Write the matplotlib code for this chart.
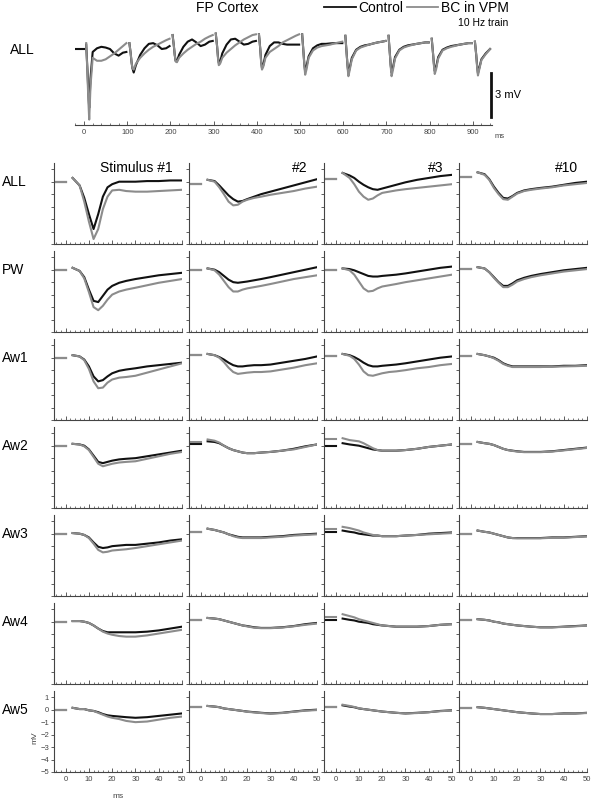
import matplotlib
matplotlib.use('Agg')
import matplotlib.pyplot as plt
from matplotlib.lines import Line2D
import numpy as np

# ///---- Data: 10 Hz train (top panel) ----///
tren_pre_t = [-18, 0]
tren_pre_v = [0.0, 0.0]
tren_t = [5, 8, 10, 12, 15, 20, 30, 40, 50, 60, 70, 80, 90, 98]
tren_ctrl = [
    [0.3, -1.5, -3.0, -4.0, -2.0, -0.2, 0.05, 0.15, 0.1, 0.0, -0.3, -0.45, -0.25, -0.2],
    [0.4, -0.3, -0.9, -1.3, -1.6, -1.1, -0.4, 0.05, 0.35, 0.4, 0.25, 0.0, 0.05, 0.2],
    [0.95, 0.2, -0.4, -0.8, -0.85, -0.4, 0.15, 0.5, 0.65, 0.45, 0.2, 0.3, 0.5, 0.55],
    [1.05, 0.2, -0.5, -0.95, -0.9, -0.3, 0.3, 0.65, 0.7, 0.5, 0.3, 0.35, 0.5, 0.55],
    [1.0, 0.0, -0.8, -1.3, -1.1, -0.4, 0.2, 0.45, 0.45, 0.35, 0.3, 0.3, 0.3, 0.3],
    [1.0, -0.2, -1.0, -1.55, -1.2, -0.5, 0.05, 0.25, 0.35, 0.35, 0.38, 0.4, 0.4, 0.4],
    [0.9, -0.3, -1.1, -1.65, -1.3, -0.6, -0.05, 0.15, 0.25, 0.3, 0.38, 0.45, 0.5, 0.55],
    [0.9, -0.3, -1.1, -1.6, -1.3, -0.55, -0.05, 0.15, 0.25, 0.3, 0.35, 0.4, 0.45, 0.45],
    [0.7, -0.3, -1.0, -1.5, -1.25, -0.55, -0.05, 0.1, 0.2, 0.25, 0.3, 0.35, 0.4, 0.4],
    [0.5, -0.4, -1.1, -1.65, -1.3, -0.7, -0.3, 0.0],
]
tren_bc = [
    [0.4, -1.8, -3.5, -4.8, -2.5, -0.6, -0.8, -0.8, -0.7, -0.5, -0.3, -0.05, 0.2, 0.4],
    [0.4, -0.3, -0.9, -1.3, -1.4, -1.0, -0.6, -0.3, -0.05, 0.15, 0.3, 0.45, 0.6, 0.7],
    [0.95, 0.2, -0.4, -0.85, -0.9, -0.6, -0.3, -0.05, 0.15, 0.35, 0.5, 0.7, 0.85, 0.95],
    [1.05, 0.2, -0.6, -1.1, -1.0, -0.6, -0.25, 0.0, 0.25, 0.45, 0.65, 0.8, 0.95, 1.0],
    [1.0, 0.0, -0.9, -1.4, -1.2, -0.6, -0.2, 0.0, 0.2, 0.45, 0.6, 0.75, 0.9, 1.0],
    [1.0, -0.2, -1.1, -1.75, -1.4, -0.6, -0.1, 0.1, 0.2, 0.25, 0.3, 0.38, 0.45, 0.5],
    [0.9, -0.3, -1.2, -1.85, -1.45, -0.7, -0.1, 0.1, 0.2, 0.3, 0.38, 0.45, 0.5, 0.55],
    [0.9, -0.3, -1.2, -1.85, -1.45, -0.65, -0.1, 0.1, 0.2, 0.28, 0.35, 0.4, 0.45, 0.45],
    [0.7, -0.3, -1.1, -1.7, -1.4, -0.65, -0.1, 0.05, 0.15, 0.22, 0.3, 0.35, 0.4, 0.4],
    [0.5, -0.4, -1.2, -1.8, -1.4, -0.75, -0.35, 0.0],
]
tren_ticks = [0, 100, 200, 300, 400, 500, 600, 700, 800, 900]

# ///---- Data: grid of responses ----///
filas = ['ALL', 'PW', 'Aw1', 'Aw2', 'Aw3', 'Aw4', 'Aw5']
titulos = ['Stimulus #1', '#2', '#3', '#10']
t_pre = [-5, 0]
t_post = [3, 6, 8, 10, 12, 14, 16, 18, 20, 23, 26, 30, 35, 40, 45, 50]

all_base_ctrl = [0.0, -0.2, 0.2, 0.4]
all_base_bc = [0.0, -0.2, 0.2, 0.4]
all_ctrl = [
    [0.3, -0.3, -1.3, -2.6, -3.8, -2.6, -1.2, -0.45, -0.2, 0.0, 0.0, 0.0, 0.05, 0.05, 0.1, 0.1],
    [0.15, 0.05, -0.3, -0.7, -1.1, -1.4, -1.6, -1.55, -1.4, -1.2, -1.0, -0.8, -0.55, -0.3, -0.05, 0.2],
    [0.7, 0.5, 0.3, 0.0, -0.25, -0.45, -0.6, -0.65, -0.55, -0.4, -0.25, -0.05, 0.15, 0.3, 0.45, 0.55],
    [0.75, 0.6, 0.2, -0.4, -0.9, -1.3, -1.35, -1.15, -0.9, -0.7, -0.6, -0.5, -0.4, -0.25, -0.1, 0.0],
]
all_bc = [
    [0.3, -0.3, -1.6, -3.2, -4.6, -3.8, -2.2, -1.2, -0.7, -0.65, -0.75, -0.8, -0.8, -0.75, -0.7, -0.65],
    [0.15, 0.0, -0.45, -1.0, -1.6, -1.9, -1.85, -1.6, -1.45, -1.3, -1.2, -1.05, -0.9, -0.75, -0.55, -0.4],
    [0.7, 0.3, -0.2, -0.8, -1.2, -1.45, -1.35, -1.1, -0.9, -0.8, -0.7, -0.6, -0.5, -0.4, -0.3, -0.2],
    [0.75, 0.55, 0.15, -0.5, -1.0, -1.4, -1.45, -1.2, -0.95, -0.75, -0.65, -0.55, -0.45, -0.3, -0.2, -0.1],
]

pw_base_ctrl = [0.0, 0.0, 0.0, 0.05]
pw_base_bc = [0.0, 0.0, 0.0, 0.05]
pw_ctrl = [
    [0.15, -0.1, -0.6, -1.6, -2.5, -2.6, -2.1, -1.6, -1.3, -1.05, -0.9, -0.75, -0.6, -0.45, -0.35, -0.25],
    [0.1, 0.0, -0.2, -0.5, -0.8, -1.0, -1.05, -1.0, -0.95, -0.85, -0.75, -0.6, -0.4, -0.2, 0.0, 0.2],
    [0.1, 0.05, -0.05, -0.2, -0.35, -0.5, -0.55, -0.55, -0.5, -0.45, -0.4, -0.3, -0.15, 0.0, 0.15, 0.25],
    [0.2, 0.1, -0.2, -0.6, -1.0, -1.3, -1.3, -1.1, -0.85, -0.65, -0.5, -0.35, -0.2, -0.05, 0.05, 0.15],
]
pw_bc = [
    [0.15, -0.1, -0.7, -1.8, -3.0, -3.25, -2.9, -2.4, -2.0, -1.75, -1.6, -1.45, -1.25, -1.05, -0.9, -0.75],
    [0.1, -0.05, -0.4, -0.9, -1.4, -1.75, -1.75, -1.6, -1.5, -1.4, -1.3, -1.15, -0.95, -0.75, -0.6, -0.45],
    [0.1, -0.05, -0.4, -0.95, -1.5, -1.75, -1.7, -1.5, -1.35, -1.25, -1.15, -1.0, -0.85, -0.7, -0.55, -0.4],
    [0.2, 0.1, -0.2, -0.65, -1.05, -1.4, -1.4, -1.2, -0.95, -0.75, -0.6, -0.45, -0.3, -0.15, -0.05, 0.05],
]

aw1_base_ctrl = [0.0, 0.2, 0.15, 0.15]
aw1_base_bc = [0.0, 0.2, 0.15, 0.15]
aw1_ctrl = [
    [0.2, 0.1, -0.15, -0.7, -1.5, -1.9, -1.8, -1.5, -1.25, -1.05, -0.95, -0.85, -0.7, -0.6, -0.5, -0.4],
    [0.3, 0.2, 0.05, -0.15, -0.4, -0.6, -0.7, -0.7, -0.65, -0.6, -0.6, -0.55, -0.4, -0.25, -0.1, 0.1],
    [0.3, 0.2, 0.05, -0.15, -0.4, -0.6, -0.7, -0.7, -0.65, -0.6, -0.55, -0.45, -0.3, -0.15, 0.0, 0.1],
    [0.3, 0.2, 0.1, 0.0, -0.2, -0.45, -0.6, -0.7, -0.7, -0.7, -0.7, -0.7, -0.7, -0.65, -0.65, -0.6],
]
aw1_bc = [
    [0.2, 0.1, -0.2, -0.9, -1.9, -2.45, -2.4, -2.0, -1.75, -1.6, -1.55, -1.45, -1.2, -0.95, -0.7, -0.45],
    [0.3, 0.2, 0.0, -0.35, -0.8, -1.15, -1.3, -1.25, -1.2, -1.15, -1.15, -1.1, -0.95, -0.8, -0.6, -0.45],
    [0.3, 0.15, -0.1, -0.55, -1.1, -1.4, -1.45, -1.35, -1.25, -1.15, -1.1, -1.0, -0.85, -0.75, -0.6, -0.5],
    [0.3, 0.2, 0.1, -0.05, -0.25, -0.5, -0.65, -0.75, -0.75, -0.75, -0.75, -0.75, -0.72, -0.7, -0.68, -0.65],
]

aw2_base_ctrl = [0.0, 0.1, 0.0, 0.1]
aw2_base_bc = [0.0, 0.3, 0.5, 0.1]
aw2_ctrl = [
    [0.15, 0.1, 0.0, -0.3, -0.8, -1.3, -1.4, -1.3, -1.2, -1.1, -1.05, -1.0, -0.85, -0.7, -0.55, -0.4],
    [0.35, 0.3, 0.2, 0.0, -0.2, -0.35, -0.45, -0.55, -0.6, -0.6, -0.55, -0.5, -0.4, -0.25, -0.05, 0.1],
    [0.2, 0.1, 0.05, 0.0, -0.1, -0.2, -0.3, -0.35, -0.4, -0.4, -0.4, -0.35, -0.25, -0.1, 0.0, 0.1],
    [0.3, 0.2, 0.15, 0.05, -0.1, -0.25, -0.35, -0.4, -0.45, -0.5, -0.5, -0.5, -0.45, -0.35, -0.25, -0.15],
]
aw2_bc = [
    [0.15, 0.1, -0.05, -0.35, -0.9, -1.45, -1.65, -1.55, -1.45, -1.35, -1.3, -1.25, -1.05, -0.85, -0.65, -0.5],
    [0.5, 0.4, 0.25, 0.0, -0.2, -0.35, -0.45, -0.55, -0.6, -0.6, -0.55, -0.5, -0.4, -0.3, -0.1, 0.1],
    [0.6, 0.45, 0.4, 0.35, 0.2, 0.0, -0.2, -0.35, -0.4, -0.4, -0.4, -0.35, -0.25, -0.1, 0.0, 0.1],
    [0.3, 0.2, 0.15, 0.05, -0.1, -0.25, -0.35, -0.42, -0.47, -0.52, -0.52, -0.52, -0.47, -0.38, -0.28, -0.18],
]

aw3_base_ctrl = [0.0, 0.1, 0.1, 0.0]
aw3_base_bc = [0.0, 0.1, 0.4, 0.0]
aw3_ctrl = [
    [0.05, 0.0, -0.1, -0.3, -0.7, -1.05, -1.15, -1.1, -1.0, -0.95, -0.9, -0.9, -0.8, -0.7, -0.55, -0.45],
    [0.4, 0.3, 0.2, 0.1, -0.05, -0.15, -0.25, -0.3, -0.3, -0.3, -0.3, -0.25, -0.2, -0.1, -0.05, 0.0],
    [0.25, 0.15, 0.1, 0.0, -0.05, -0.1, -0.15, -0.15, -0.2, -0.2, -0.2, -0.15, -0.1, 0.0, 0.05, 0.1],
    [0.25, 0.15, 0.1, 0.0, -0.1, -0.2, -0.3, -0.35, -0.35, -0.35, -0.35, -0.35, -0.3, -0.3, -0.25, -0.2],
]
aw3_bc = [
    [0.05, 0.0, -0.1, -0.35, -0.8, -1.3, -1.5, -1.45, -1.35, -1.3, -1.25, -1.15, -1.0, -0.85, -0.7, -0.55],
    [0.4, 0.3, 0.2, 0.1, -0.05, -0.2, -0.3, -0.35, -0.35, -0.35, -0.35, -0.3, -0.25, -0.15, -0.1, -0.05],
    [0.55, 0.45, 0.35, 0.25, 0.1, 0.0, -0.1, -0.15, -0.2, -0.2, -0.2, -0.15, -0.1, -0.05, 0.0, 0.05],
    [0.25, 0.15, 0.1, 0.0, -0.1, -0.2, -0.3, -0.35, -0.37, -0.37, -0.37, -0.37, -0.33, -0.32, -0.27, -0.22],
]

aw4_base_ctrl = [0.0, 0.15, 0.1, 0.1]
aw4_base_bc = [0.0, 0.15, 0.4, 0.1]
aw4_ctrl = [
    [0.05, 0.05, 0.0, -0.1, -0.3, -0.55, -0.75, -0.85, -0.85, -0.85, -0.85, -0.85, -0.8, -0.7, -0.55, -0.4],
    [0.3, 0.25, 0.2, 0.1, 0.0, -0.1, -0.2, -0.3, -0.35, -0.45, -0.5, -0.5, -0.45, -0.35, -0.2, -0.1],
    [0.25, 0.15, 0.1, 0.0, -0.05, -0.1, -0.2, -0.25, -0.3, -0.35, -0.4, -0.4, -0.4, -0.35, -0.25, -0.2],
    [0.2, 0.15, 0.1, 0.0, -0.05, -0.15, -0.2, -0.25, -0.3, -0.35, -0.4, -0.45, -0.45, -0.4, -0.35, -0.3],
]
aw4_bc = [
    [0.05, 0.05, 0.0, -0.1, -0.3, -0.55, -0.8, -0.95, -1.05, -1.15, -1.2, -1.2, -1.1, -0.95, -0.8, -0.65],
    [0.3, 0.25, 0.2, 0.1, 0.0, -0.1, -0.2, -0.3, -0.38, -0.48, -0.52, -0.52, -0.47, -0.37, -0.25, -0.15],
    [0.6, 0.45, 0.35, 0.2, 0.1, 0.0, -0.1, -0.2, -0.3, -0.35, -0.4, -0.4, -0.4, -0.35, -0.25, -0.2],
    [0.2, 0.15, 0.1, 0.0, -0.05, -0.15, -0.2, -0.25, -0.3, -0.35, -0.4, -0.45, -0.45, -0.42, -0.37, -0.32],
]

aw5_base_ctrl = [0.0, 0.2, 0.2, 0.1]
aw5_base_bc = [0.0, 0.2, 0.25, 0.1]
aw5_ctrl = [
    [0.15, 0.05, 0.05, -0.05, -0.1, -0.2, -0.35, -0.45, -0.5, -0.55, -0.6, -0.65, -0.6, -0.5, -0.4, -0.3],
    [0.3, 0.25, 0.2, 0.1, 0.05, 0.0, -0.05, -0.1, -0.15, -0.2, -0.25, -0.3, -0.25, -0.15, -0.05, 0.0],
    [0.35, 0.25, 0.2, 0.1, 0.05, 0.0, -0.05, -0.1, -0.15, -0.2, -0.25, -0.3, -0.25, -0.2, -0.1, -0.05],
    [0.2, 0.15, 0.1, 0.05, 0.0, -0.05, -0.1, -0.15, -0.2, -0.25, -0.3, -0.35, -0.35, -0.3, -0.3, -0.25],
]
aw5_bc = [
    [0.15, 0.05, 0.05, -0.05, -0.1, -0.25, -0.4, -0.55, -0.65, -0.75, -0.9, -1.0, -0.95, -0.8, -0.65, -0.55],
    [0.3, 0.25, 0.2, 0.1, 0.05, 0.0, -0.05, -0.1, -0.17, -0.22, -0.27, -0.32, -0.27, -0.17, -0.08, -0.03],
    [0.4, 0.3, 0.22, 0.12, 0.05, 0.0, -0.05, -0.1, -0.15, -0.2, -0.25, -0.3, -0.27, -0.2, -0.12, -0.07],
    [0.2, 0.15, 0.1, 0.05, 0.0, -0.05, -0.1, -0.15, -0.2, -0.25, -0.3, -0.35, -0.35, -0.32, -0.3, -0.27],
]

datos = {
    'ALL': (all_base_ctrl, all_base_bc, all_ctrl, all_bc),
    'PW': (pw_base_ctrl, pw_base_bc, pw_ctrl, pw_bc),
    'Aw1': (aw1_base_ctrl, aw1_base_bc, aw1_ctrl, aw1_bc),
    'Aw2': (aw2_base_ctrl, aw2_base_bc, aw2_ctrl, aw2_bc),
    'Aw3': (aw3_base_ctrl, aw3_base_bc, aw3_ctrl, aw3_bc),
    'Aw4': (aw4_base_ctrl, aw4_base_bc, aw4_ctrl, aw4_bc),
    'Aw5': (aw5_base_ctrl, aw5_base_bc, aw5_ctrl, aw5_bc),
}

# ///---- Style ----///
W, H = 593, 800
NEGRO = '#111111'
GRIS = '#8c8c8c'
EJE = '#444444'
LW = 1.5
plt.rcParams['font.family'] = ['Liberation Sans', 'DejaVu Sans']

fig = plt.figure(figsize=(W / 100, H / 100), dpi=100)

def caja(x0, y0, w, h):
    # pixel box (from top-left) -> figure fraction
    return [x0 / W, 1 - (y0 + h) / H, w / W, h / H]

# ///---- Top panel ----///
ax0 = fig.add_axes(caja(75.4, 25.5, 416.8, 99.5))
ax0.plot(tren_pre_t, tren_pre_v, color=NEGRO, lw=LW)
for k in range(len(tren_ctrl)):
    tc = k * 100 + np.array(tren_t[:len(tren_ctrl[k])])
    tb = k * 100 + np.array(tren_t[:len(tren_bc[k])])
    ax0.plot(tc, tren_ctrl[k], color=NEGRO, lw=LW)
    ax0.plot(tb, tren_bc[k], color=GRIS, lw=LW)
ax0.set_xlim(-20, 945)
ax0.set_ylim(-5.17, 1.6)
for s in ['top', 'right', 'left']:
    ax0.spines[s].set_visible(False)
ax0.spines['bottom'].set_color(EJE)
ax0.spines['bottom'].set_linewidth(0.8)
ax0.set_yticks([])
ax0.set_xticks(tren_ticks)
ax0.set_xticks(np.arange(-20, 945, 20), minor=True)
ax0.tick_params(axis='x', which='major', direction='in', length=3, width=0.6,
                colors=EJE, labelsize=5.5, pad=3)
ax0.tick_params(axis='x', which='minor', direction='in', length=1.8, width=0.5, colors=EJE)
# scale bar 3 mV
ax0.plot([942, 942], [-1.6, -4.6], color=NEGRO, lw=2, clip_on=False)
ax0.text(952, -3.1, '3 mV', fontsize=8, va='center', ha='left')
fig.text(495 / W, 1 - 137 / H, 'ms', fontsize=5.5, color=EJE, ha='left', va='center')
fig.text(10 / W, 1 - 50 / H, 'ALL', fontsize=10, va='center', ha='left')
fig.text(227 / W, 1 - 8 / H, 'FP Cortex', fontsize=10, va='center', ha='center')
fig.text(483 / W, 1 - 23 / H, '10 Hz train', fontsize=7.5, va='center', ha='center')

h1 = Line2D([], [], color=NEGRO, lw=1.3)
h2 = Line2D([], [], color=GRIS, lw=1.3)
fig.legend([h1, h2], ['Control', 'BC in VPM'], loc='upper left',
           bbox_to_anchor=(324 / W, 1 - 1 / H), ncol=2, frameon=False, fontsize=10,
           handlelength=2.3, handletextpad=0.2, columnspacing=0.2,
           borderpad=0, borderaxespad=0)

# ///---- Grid ----///
col_x = [54, 189, 324, 459]
for r, fila in enumerate(filas):
    base_c, base_b, ctrl, bc = datos[fila]
    y0 = 163 + 88 * r
    for c in range(4):
        ax = fig.add_axes(caja(col_x[c], y0, 128, 81))
        ax.plot(t_pre, [base_c[c]] * 2, color=NEGRO, lw=LW)
        ax.plot(t_pre, [base_b[c]] * 2, color=GRIS, lw=LW)
        ax.plot(t_post, ctrl[c], color=NEGRO, lw=LW)
        ax.plot(t_post, bc[c], color=GRIS, lw=LW)
        ax.set_xlim(-5, 50)
        ax.set_ylim(-5, 1.5)
        ax.spines['top'].set_visible(False)
        ax.spines['right'].set_visible(False)
        for s in ['left', 'bottom']:
            ax.spines[s].set_color(EJE)
            ax.spines[s].set_linewidth(0.8)
        ax.set_xticks([0, 10, 20, 30, 40, 50])
        ax.set_xticks(np.arange(-4, 51, 2), minor=True)
        ax.set_yticks([1, 0, -1, -2, -3, -4, -5])
        ax.tick_params(axis='x', which='major', direction='in', length=3, width=0.6,
                       colors=EJE, labelsize=5.5, pad=3)
        ax.tick_params(axis='x', which='minor', direction='in', length=1.8, width=0.5,
                       colors=EJE)
        ax.tick_params(axis='y', direction='out', length=2.5, width=0.6, colors=EJE,
                       labelsize=5.5, pad=1)
        if r < len(filas) - 1:
            ax.set_xticklabels([])
        if not (r == len(filas) - 1 and c == 0):
            ax.set_yticklabels([])
        if r == 0:
            ax.text(0.93, 0.94, titulos[c], transform=ax.transAxes, fontsize=10,
                    ha='right', va='center')
    fig.text(2 / W, 1 - (y0 + 19) / H, fila, fontsize=10, va='center', ha='left')

fig.text(118 / W, 1 - 796 / H, 'ms', fontsize=6, color=EJE, ha='center', va='center')
fig.text(35 / W, 1 - 738 / H, 'mV', fontsize=6, color=EJE, ha='center', va='center',
         rotation=90)

fig.savefig('out.png', dpi=100)
